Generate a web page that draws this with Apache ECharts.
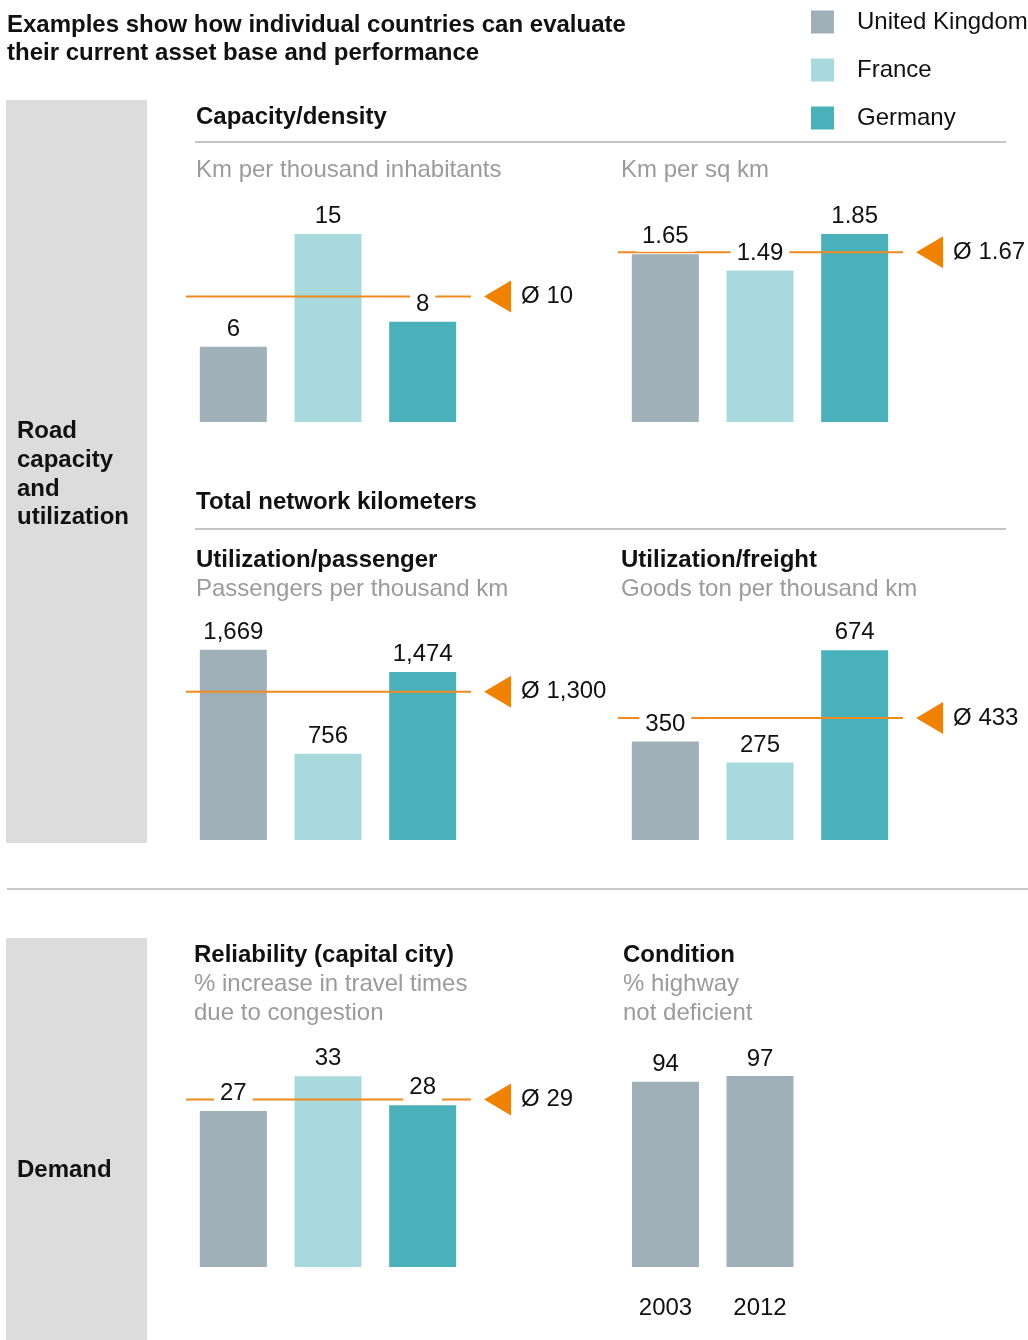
<!DOCTYPE html>
<html>
<head>
<meta charset="utf-8">
<script src="https://cdn.jsdelivr.net/npm/echarts@6/dist/echarts.min.js"></script>
<style>
  html, body { margin: 0; padding: 0; background: #fff; }
  #main { width: 1028px; height: 1340px; }
</style>
</head>
<body>
<div id="main"></div>
<script>
// data
const countries = ['United Kingdom', 'France', 'Germany'];
const kmPerThousand = [6, 15, 8];
const kmPerThousandAvg = 10;
const kmPerSqKm = [1.65, 1.49, 1.85];
const kmPerSqKmAvg = 1.67;
const passengers = [1669, 756, 1474];
const passengersAvg = 1300;
const freight = [350, 275, 674];
const freightAvg = 433;
const congestion = [27, 33, 28];
const congestionAvg = 29;
const conditionYears = ['2003', '2012'];
const conditionValues = [94, 97];

const FONT = '"Liberation Sans", Arial, sans-serif';
const colors = ['#9fb0b8', '#a8d9dc', '#4ab1bb'];
const orange = '#ef8200';
const lineOrange = '#f08a1e';
const ink = '#111111';
const grey = '#9b9b9b';

function fmt(decimals) {
  return v => Number(v).toLocaleString('en-US', {
    minimumFractionDigits: decimals, maximumFractionDigits: decimals
  });
}

// layout of the five country panels (px)
const panels = [
  { values: kmPerThousand, avg: kmPerThousandAvg, left: 186, bottom: 422, max: 16, scale: 12.54, f: fmt(0) },
  { values: kmPerSqKm, avg: kmPerSqKmAvg, left: 618, bottom: 422, max: 2, scale: 101.6, f: fmt(2) },
  { values: passengers, avg: passengersAvg, left: 186, bottom: 840, max: 1800, scale: 0.114, f: fmt(0) },
  { values: freight, avg: freightAvg, left: 618, bottom: 840, max: 700, scale: 0.2815, f: fmt(0) },
  { values: congestion, avg: congestionAvg, left: 186, bottom: 1267, max: 35, scale: 5.78, f: fmt(0) }
];

const grid = [], xAxis = [], yAxis = [], series = [];

const valueLabel = (f) => ({
  show: true,
  position: 'top',
  distance: 2,
  formatter: p => f(p.value),
  fontSize: 24,
  fontFamily: FONT,
  color: ink,
  backgroundColor: '#fff',
  padding: [3, 6, 3, 6]
});

const hiddenAxis = {
  axisLine: { show: false },
  axisTick: { show: false },
  axisLabel: { show: false },
  splitLine: { show: false }
};

panels.forEach((p, i) => {
  const h = p.max * p.scale;
  grid.push({ left: p.left, top: p.bottom - h, width: 284, height: h });
  xAxis.push(Object.assign({ type: 'category', gridIndex: i, data: countries }, hiddenAxis));
  xAxis.push(Object.assign({ type: 'value', gridIndex: i, min: 0, max: 1 }, hiddenAxis));
  yAxis.push(Object.assign({ type: 'value', gridIndex: i, min: 0, max: p.max }, hiddenAxis));

  countries.forEach((c, k) => {
    series.push({
      type: 'bar',
      name: c,
      xAxisIndex: 2 * i,
      yAxisIndex: i,
      barWidth: 67,
      barGap: '-100%',
      z: 2,
      itemStyle: { color: colors[k] },
      data: p.values.map((v, j) => (j === k ? v : '-'))
    });
  });

  // average line
  series.push({
    type: 'line',
    xAxisIndex: 2 * i + 1,
    yAxisIndex: i,
    z: 3,
    symbol: 'none',
    silent: true,
    lineStyle: { color: lineOrange, width: 2 },
    data: [[0, p.avg], [1.007, p.avg]]
  });

  // triangle marker with the average value
  series.push({
    type: 'scatter',
    xAxisIndex: 2 * i + 1,
    yAxisIndex: i,
    z: 3,
    clip: false,
    silent: true,
    symbol: 'path://M27,0 L27,32 L0,16 Z',
    symbolSize: [27, 32],
    itemStyle: { color: orange, opacity: 1 },
    label: {
      show: true,
      position: 'right',
      distance: 10,
      formatter: () => '\u00d8 ' + p.f(p.avg),
      fontSize: 24,
      fontFamily: FONT,
      color: ink
    },
    data: [[1.097, p.avg]]
  });

  // value labels above the bars, drawn on top of the average line
  series.push({
    type: 'scatter',
    xAxisIndex: 2 * i,
    yAxisIndex: i,
    z: 4,
    silent: true,
    symbolSize: 1,
    itemStyle: { color: 'rgba(0,0,0,0)', opacity: 1 },
    label: valueLabel(p.f),
    data: p.values
  });
});

// condition panel
const ci = panels.length;
const condMax = 100, condScale = 1.97;
grid.push({ left: 618.25, top: 1267 - condMax * condScale, width: 189, height: condMax * condScale });
xAxis.push({
  type: 'category', gridIndex: ci, data: conditionYears,
  axisLine: { show: false }, axisTick: { show: false }, splitLine: { show: false },
  axisLabel: { show: true, margin: 29, fontSize: 24, fontFamily: FONT, color: ink }
});
yAxis.push(Object.assign({ type: 'value', gridIndex: ci, min: 0, max: condMax }, hiddenAxis));
series.push({
  type: 'bar',
  name: 'Condition',
  xAxisIndex: xAxis.length - 1,
  yAxisIndex: ci,
  barWidth: 67,
  itemStyle: { color: colors[0] },
  label: valueLabel(fmt(0)),
  data: conditionValues
});

// static texts and panel backgrounds
const texts = [
  [7, 25, 'Examples show how individual countries can evaluate', true],
  [7, 53, 'their current asset base and performance', true],
  [196, 117, 'Capacity/density', true],
  [196, 170, 'Km per thousand inhabitants', false],
  [621, 170, 'Km per sq km', false],
  [17, 431, 'Road', true],
  [17, 460, 'capacity', true],
  [17, 489, 'and', true],
  [17, 517, 'utilization', true],
  [196, 502, 'Total network kilometers', true],
  [196, 560, 'Utilization/passenger', true],
  [196, 589, 'Passengers per thousand km', false],
  [621, 560, 'Utilization/freight', true],
  [621, 589, 'Goods ton per thousand km', false],
  [194, 955, 'Reliability (capital city)', true],
  [194, 984, '% increase in travel times', false],
  [194, 1013, 'due to congestion', false],
  [623, 955, 'Condition', true],
  [623, 984, '% highway', false],
  [623, 1013, 'not deficient', false],
  [17, 1170, 'Demand', true]
];

const graphic = [
  { type: 'rect', shape: { x: 6, y: 100, width: 141, height: 743 }, style: { fill: '#dcdcdc' }, z: -10 },
  { type: 'rect', shape: { x: 6, y: 938, width: 141, height: 402 }, style: { fill: '#dcdcdc' }, z: -10 },
  { type: 'line', shape: { x1: 7, y1: 889, x2: 1028, y2: 889 }, style: { stroke: '#c8c8c8', lineWidth: 2 } },
  { type: 'line', shape: { x1: 195, y1: 142, x2: 1006, y2: 142 }, style: { stroke: '#c4c4c4', lineWidth: 2 } },
  { type: 'line', shape: { x1: 195, y1: 529, x2: 1006, y2: 529 }, style: { stroke: '#c4c4c4', lineWidth: 2 } }
].concat(texts.map(t => ({
  type: 'text',
  x: t[0],
  y: t[1],
  style: {
    text: t[2],
    fontSize: 24,
    fontWeight: t[3] ? 'bold' : 'normal',
    fontFamily: FONT,
    fill: t[3] ? ink : grey,
    verticalAlign: 'middle'
  }
})));

const chart = echarts.init(document.getElementById('main'), null, { renderer: 'canvas' });
chart.setOption({
  animation: false,
  backgroundColor: '#fff',
  legend: {
    data: countries,
    orient: 'vertical',
    left: 811,
    top: 10,
    itemWidth: 23,
    itemHeight: 23,
    itemGap: 24,
    icon: 'rect',
    selectedMode: false,
    padding: 0,
    textStyle: { fontSize: 24, fontFamily: FONT, color: ink, padding: [8, 0, 0, 18] }
  },
  grid: grid,
  xAxis: xAxis,
  yAxis: yAxis,
  series: series,
  graphic: graphic
});
</script>
</body>
</html>
